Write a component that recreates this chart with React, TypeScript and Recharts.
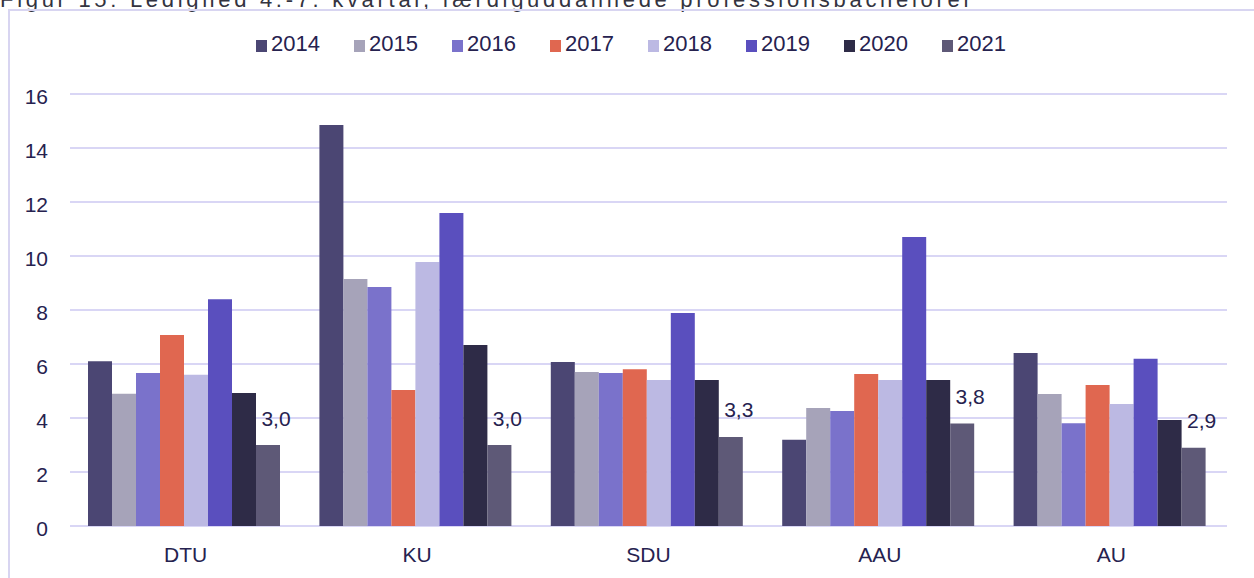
import React from 'react';
import { BarChart, Bar, XAxis, YAxis, CartesianGrid, Legend, LabelList } from 'recharts';

const universities = ['DTU', 'KU', 'SDU', 'AAU', 'AU'];
const years = ['2014', '2015', '2016', '2017', '2018', '2019', '2020', '2021'];
const v2014 = [6.1, 14.85, 6.07, 3.19, 6.41];
const v2015 = [4.9, 9.15, 5.7, 4.37, 4.89];
const v2016 = [5.67, 8.85, 5.67, 4.26, 3.81];
const v2017 = [7.07, 5.04, 5.81, 5.63, 5.22];
const v2018 = [5.6, 9.78, 5.41, 5.41, 4.52];
const v2019 = [8.4, 11.59, 7.89, 10.7, 6.19];
const v2020 = [4.93, 6.7, 5.41, 5.41, 3.93];
const v2021 = [3.0, 3.0, 3.3, 3.8, 2.9];
const yTicks = [0, 2, 4, 6, 8, 10, 12, 14, 16];
const colors = ['#4b4673', '#a6a3b9', '#7a72cb', '#e06750', '#bcb9e3', '#5a4fbe', '#2e2b47', '#5e5977'];
const titleText = 'Figur 15: Ledighed 4.-7. kvartal, færdiguddannede professionsbachelorer';

const seriesValues = [v2014, v2015, v2016, v2017, v2018, v2019, v2020, v2021];
const data = universities.map((u, i) => {
  const row: Record<string, string | number> = { name: u };
  years.forEach((y, j) => {
    row[y] = seriesValues[j][i];
  });
  return row;
});

const FONT = '"Liberation Sans", Arial, sans-serif';
const TEXT = '#26224f';

const renderLabel = (props: any) => {
  const { x, y, width, value } = props;
  return (
    <text
      x={Number(x) + Number(width) / 2 + 8}
      y={Number(y) - 27}
      textAnchor="middle"
      dominantBaseline="central"
      fontSize={21}
      fill={TEXT}
      fontFamily={FONT}
    >
      {Number(value).toFixed(1).replace('.', ',')}
    </text>
  );
};

const renderLegend = () => (
  <div style={{ display: 'flex', justifyContent: 'flex-start', fontFamily: FONT, fontSize: 22, color: TEXT, height: 24 }}>
    {years.map((y, i) => (
      <div key={y} style={{ display: 'flex', alignItems: 'center', width: 98 }}>
        <span style={{ display: 'inline-block', width: 11, height: 12, background: colors[i], marginRight: 4, marginTop: 3 }} />
        <span>{y}</span>
      </div>
    ))}
  </div>
);

export default function App() {
  return (
    <div style={{ position: 'absolute', left: 0, top: 0, width: 1254, height: 578, overflow: 'hidden', background: '#fff' }}>
      <svg width={1254} height={20} style={{ position: 'absolute', left: 0, top: 0 }}>
        <text x={0} y={7} fontSize={22} letterSpacing={3.7} fill="#333340" fontFamily={FONT}>
          {titleText}
        </text>
      </svg>
      <div
        style={{
          position: 'absolute',
          left: 8,
          top: 9,
          width: 1300,
          height: 600,
          borderLeft: '2px solid #d8d5f1',
          borderTop: '2px solid #d8d5f1',
        }}
      />
      <div style={{ position: 'absolute', left: 0, top: 0 }}>
        <BarChart
          width={1254}
          height={578}
          data={data}
          margin={{ top: 70, right: 27, bottom: 22, left: 0 }}
          barCategoryGap={18}
          barGap={0}
        >
          <CartesianGrid vertical={false} stroke="#d9d6f5" strokeWidth={2} />
          <XAxis
            dataKey="name"
            axisLine={false}
            tickLine={false}
            height={30}
            tickMargin={15}
            tick={{ fontSize: 21, fill: TEXT, fontFamily: FONT }}
          />
          <YAxis
            width={70}
            domain={[0, 16]}
            ticks={yTicks}
            axisLine={false}
            tickLine={false}
            tickMargin={16}
            tick={{ fontSize: 21, fill: TEXT, fontFamily: FONT, dy: 3 }}
          />
          <Legend
            verticalAlign="top"
            content={renderLegend}
            wrapperStyle={{ position: 'absolute', top: 32, left: 256, width: 800, height: 24 }}
          />
          {years.map((y, i) => (
            <Bar key={y} dataKey={y} fill={colors[i]} isAnimationActive={false}>
              {i === years.length - 1 ? <LabelList dataKey={y} content={renderLabel} /> : null}
            </Bar>
          ))}
        </BarChart>
      </div>
    </div>
  );
}
